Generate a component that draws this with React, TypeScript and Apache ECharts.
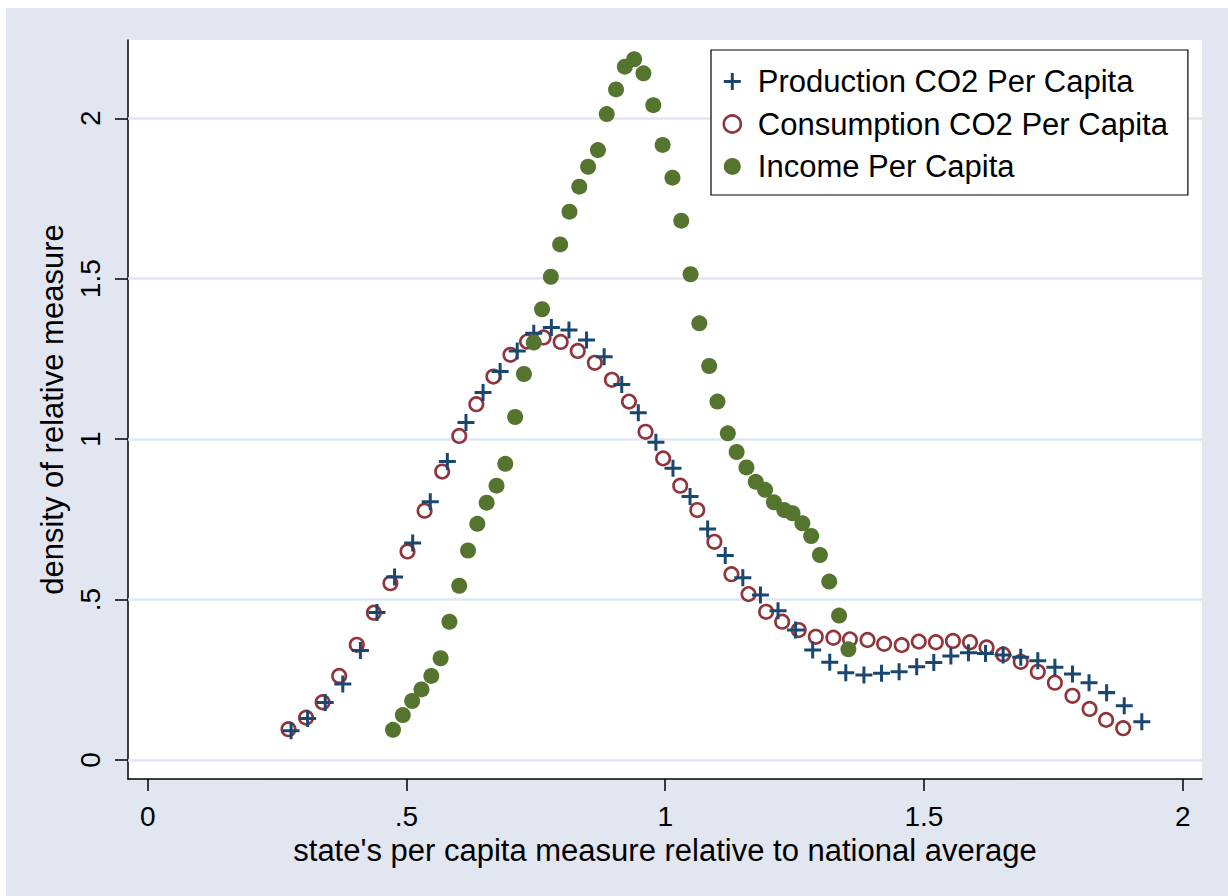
import React, { useEffect, useRef } from "react";
import * as echarts from "echarts";

const FONT = "'Liberation Sans', Arial, Helvetica, sans-serif";
const BG = "#e1e6f0";

const xTicks = [0, 0.5, 1, 1.5, 2];
const yTicks = [0, 0.5, 1, 1.5, 2];

const seriesNames = ["Production CO2 Per Capita", "Consumption CO2 Per Capita", "Income Per Capita"];

const productionX = [
  0.277, 0.309, 0.343, 0.377, 0.411, 0.443, 0.477, 0.512, 0.546, 0.579,
  0.615, 0.648, 0.681, 0.714, 0.746, 0.780, 0.814, 0.848, 0.882, 0.916,
  0.948, 0.982, 1.015, 1.048, 1.082, 1.116, 1.150, 1.184, 1.218, 1.252,
  1.285, 1.318, 1.349, 1.384, 1.418, 1.452, 1.486, 1.519, 1.552, 1.586,
  1.619, 1.653, 1.687, 1.720, 1.753, 1.787, 1.819, 1.853, 1.887, 1.921,
];
const productionY = [
  0.091, 0.129, 0.179, 0.237, 0.341, 0.460, 0.570, 0.676, 0.805, 0.930,
  1.052, 1.145, 1.211, 1.275, 1.330, 1.348, 1.340, 1.309, 1.257, 1.170,
  1.082, 0.990, 0.909, 0.821, 0.720, 0.637, 0.568, 0.514, 0.465, 0.405,
  0.343, 0.305, 0.272, 0.265, 0.270, 0.275, 0.291, 0.304, 0.324, 0.334,
  0.332, 0.327, 0.320, 0.309, 0.289, 0.268, 0.241, 0.210, 0.169, 0.119,
];

const consumptionX = [
  0.272, 0.306, 0.338, 0.370, 0.404, 0.437, 0.469, 0.502, 0.535, 0.569,
  0.602, 0.635, 0.668, 0.701, 0.733, 0.765, 0.798, 0.831, 0.864, 0.897,
  0.930, 0.962, 0.996, 1.029, 1.062, 1.095, 1.128, 1.161, 1.195, 1.226,
  1.258, 1.291, 1.325, 1.357, 1.391, 1.423, 1.457, 1.490, 1.523, 1.556,
  1.589, 1.621, 1.653, 1.687, 1.720, 1.753, 1.787, 1.820, 1.852, 1.885,
];
const consumptionY = [
  0.096, 0.132, 0.180, 0.262, 0.359, 0.459, 0.551, 0.650, 0.777, 0.899,
  1.010, 1.109, 1.195, 1.263, 1.304, 1.317, 1.303, 1.275, 1.238, 1.185,
  1.117, 1.023, 0.940, 0.855, 0.779, 0.680, 0.579, 0.517, 0.462, 0.431,
  0.405, 0.384, 0.381, 0.376, 0.374, 0.362, 0.358, 0.369, 0.367, 0.371,
  0.367, 0.351, 0.329, 0.306, 0.275, 0.241, 0.200, 0.159, 0.125, 0.099,
];

const incomeX = [
  0.474, 0.493, 0.511, 0.529, 0.548, 0.566, 0.583, 0.602, 0.619, 0.637,
  0.655, 0.674, 0.691, 0.710, 0.727, 0.746, 0.762, 0.779, 0.797, 0.815,
  0.834, 0.851, 0.870, 0.887, 0.905, 0.922, 0.940, 0.958, 0.977, 0.995,
  1.014, 1.031, 1.049, 1.066, 1.085, 1.101, 1.121, 1.138, 1.157, 1.175,
  1.193, 1.210, 1.230, 1.246, 1.265, 1.282, 1.299, 1.317, 1.336, 1.354,
];
const incomeY = [
  0.094, 0.140, 0.184, 0.220, 0.262, 0.317, 0.431, 0.543, 0.653, 0.736,
  0.802, 0.855, 0.923, 1.069, 1.203, 1.301, 1.405, 1.506, 1.607, 1.709,
  1.787, 1.849, 1.901, 2.013, 2.090, 2.161, 2.184, 2.140, 2.041, 1.917,
  1.815, 1.681, 1.514, 1.361, 1.228, 1.117, 1.018, 0.960, 0.912, 0.867,
  0.842, 0.803, 0.779, 0.769, 0.738, 0.698, 0.639, 0.556, 0.450, 0.345,
];

const NAVY = "#1a476f";
const MAROON = "#90353b";
const GREEN = "#55752f";
const PLUS = "path://M0,7H17V10H0Z M7,0H10V17H7Z";

const zip = (xs: number[], ys: number[]) => xs.map((x, i) => [x, ys[i]]);
const fmt = (v: number) => (v === 0 ? "0" : String(v).replace(/^0\./, "."));

export default function App() {
  const ref = useRef<HTMLDivElement>(null);
  useEffect(() => {
    if (!ref.current) return;
    const chart = echarts.init(ref.current, null, { renderer: "svg" });
    const axisLineStyle = { color: "#000", width: 1.5 };
    chart.setOption({
      animation: false,
      backgroundColor: BG,
      textStyle: { fontFamily: FONT },
      grid: {
        left: 122,
        top: 32,
        right: 26,
        bottom: 117,
        show: true,
        backgroundColor: "#fff",
        borderWidth: 0,
      },
      xAxis: {
        type: "value",
        min: -0.0381,
        max: 2.0373,
        axisLine: { show: true, onZero: false, lineStyle: axisLineStyle },
        axisTick: { show: true, customValues: xTicks, length: 12, lineStyle: axisLineStyle },
        axisLabel: {
          customValues: xTicks,
          formatter: fmt,
          fontSize: 28,
          color: "#000",
          margin: 23,
          fontFamily: FONT,
        },
        splitLine: { show: false },
        name: "state's per capita measure relative to national average",
        nameLocation: "middle",
        nameGap: 48,
        nameTextStyle: { fontSize: 31, color: "#000", fontFamily: FONT },
      },
      yAxis: {
        type: "value",
        min: -0.0592,
        max: 2.244,
        axisLine: { show: true, onZero: false, lineStyle: axisLineStyle },
        axisTick: { show: true, customValues: yTicks, length: 13, lineStyle: axisLineStyle },
        axisLabel: {
          customValues: yTicks,
          formatter: fmt,
          rotate: 90,
          fontSize: 28,
          color: "#000",
          margin: 24,
          fontFamily: FONT,
        },
        splitLine: { show: false },
        name: "density of relative measure",
        nameLocation: "middle",
        nameGap: 52,
        nameRotate: 90,
        nameTextStyle: { fontSize: 31, color: "#000", fontFamily: FONT },
      },
      legend: {
        left: 705,
        top: 42,
        orient: "vertical",
        backgroundColor: "#fff",
        borderColor: "#000",
        borderWidth: 1.2,
        borderRadius: 0,
        padding: [16, 20, 13, 11.5],
        itemGap: 11.5,
        itemWidth: 17,
        itemHeight: 17,
        textStyle: { fontSize: 31, lineHeight: 31, color: "#000", fontFamily: FONT, padding: [0, 0, 0, 12] },
        data: [
          { name: seriesNames[0], icon: PLUS, itemStyle: { color: NAVY, borderWidth: 0 } },
          {
            name: seriesNames[1],
            icon: "circle",
            itemStyle: { color: "transparent", borderColor: MAROON, borderWidth: 2.6 },
          },
          { name: seriesNames[2], icon: "circle", itemStyle: { color: GREEN, borderWidth: 0 } },
        ],
      },
      series: [
        {
          name: seriesNames[1],
          type: "scatter",
          data: zip(consumptionX, consumptionY),
          symbol: "circle",
          symbolSize: 13.5,
          itemStyle: { color: "transparent", borderColor: MAROON, borderWidth: 2.6, opacity: 1 },
          z: 2,
          markLine: {
            silent: true,
            z: 1,
            symbol: ["none", "none"],
            label: { show: false },
            lineStyle: { color: BG, width: 2.5, type: "solid" },
            emphasis: { disabled: true },
            data: yTicks.map((v) => ({ yAxis: v })),
          },
        },
        {
          name: seriesNames[0],
          type: "scatter",
          data: zip(productionX, productionY),
          symbol: PLUS,
          symbolSize: 17,
          itemStyle: { color: NAVY, opacity: 1 },
          z: 3,
        },
        {
          name: seriesNames[2],
          type: "scatter",
          data: zip(incomeX, incomeY),
          symbol: "circle",
          symbolSize: 16,
          itemStyle: { color: GREEN, opacity: 1 },
          z: 4,
        },
      ],
    });
    return () => chart.dispose();
  }, []);
  return (
    <div
      ref={ref}
      style={{ position: "fixed", left: 6, top: 8, width: 1222, height: 888 }}
    />
  );
}
